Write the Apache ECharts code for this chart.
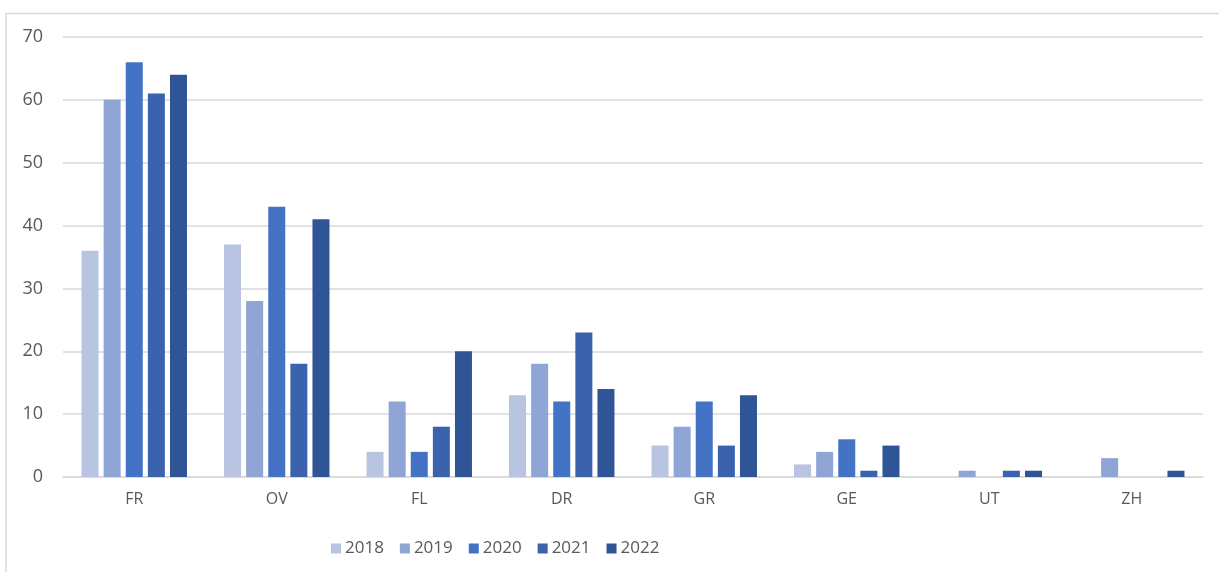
<!DOCTYPE html>
<html><head><meta charset="utf-8">
<script src="https://cdn.jsdelivr.net/npm/echarts@6/dist/echarts.min.js"></script>
<style>html,body{margin:0;padding:0;background:#fff}#c{width:1219px;height:572px}</style>
</head><body><div id="c"></div>
<script>
const categories = ['FR','OV','FL','DR','GR','GE','UT','ZH'];
const years = ['2018','2019','2020','2021','2022'];
const s2018 = [36,37,4,13,5,2,0,0];
const s2019 = [60,28,12,18,8,4,1,3];
const s2020 = [66,43,4,12,12,6,0,0];
const s2021 = [61,18,8,23,5,1,1,0];
const s2022 = [64,41,20,14,13,5,1,1];
const yTicks = [0,10,20,30,40,50,60,70];
const colors = ['#B9C3E2','#8FA5D5','#4472C4','#3A62AD','#2F5597'];
const seriesData = [s2018,s2019,s2020,s2021,s2022];

const chart = echarts.init(document.getElementById('c'), null, {renderer:'canvas'});
chart.setOption({
  animation:false,
  color: colors,
  textStyle:{fontFamily:'"Open Sans", "Liberation Sans", sans-serif'},
  graphic:[{type:'polyline',shape:{points:[[6,572],[6,13.5],[1219,13.5]]},style:{stroke:'#d9d9d9',lineWidth:1.5,fill:null}}],
  grid:{left:63,right:16,top:37,bottom:95},
  legend:{
    bottom:10, left:326, itemWidth:10, itemHeight:10, itemGap:16,
    icon:'rect',
    textStyle:{color:'#595959',fontSize:17, padding:[0,0,0,-1]},
    data: years
  },
  xAxis:{
    type:'category', data:categories,
    axisLine:{lineStyle:{color:'#d9d9d9',width:1.5}},
    axisTick:{show:false},
    axisLabel:{color:'#595959',fontSize:16,margin:14}
  },
  yAxis:{
    type:'value', min:0, max:70, interval:10,
    axisLine:{show:false}, axisTick:{show:false},
    splitLine:{lineStyle:{color:'#d9d9d9',width:1.5}},
    axisLabel:{color:'#595959',fontSize:18,margin:20}
  },
  series: years.map((y,i)=>({
    name:y, type:'bar', data:seriesData[i],
    barGap:'30%', barCategoryGap:'26%',
    itemStyle:{color:colors[i], borderWidth:0}
  }))
});
</script></body></html>
